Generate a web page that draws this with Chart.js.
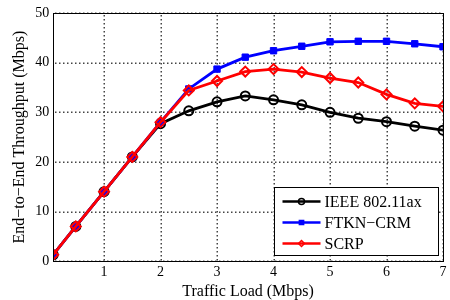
<!DOCTYPE html>
<html>
<head>
<meta charset="utf-8">
<script src="https://cdn.jsdelivr.net/npm/chart.js@4"></script>
<style>
  html, body { margin: 0; padding: 0; background: #fff; }
  #wrap { width: 450px; height: 300px; }
</style>
</head>
<body>
<div id="wrap"><canvas id="tputChart" width="450" height="300"></canvas></div>
<script>
const loads = [0.1, 0.5, 1, 1.5, 2, 2.5, 3, 3.5, 4, 4.5, 5, 5.5, 6, 6.5, 7];
const ieee = [1.3, 7, 14, 21, 27.7, 30.3, 32.1, 33.3, 32.5, 31.5, 30.0, 28.8, 28.1, 27.2, 26.4];
const ftkn = [1.3, 7, 14, 21, 28, 34.7, 38.7, 41.1, 42.4, 43.3, 44.2, 44.3, 44.3, 43.8, 43.2];
const scrp = [1.3, 7, 14, 21, 28, 34.4, 36.3, 38.2, 38.7, 38.1, 36.9, 36.0, 33.6, 31.8, 31.2];
const xTicks = [1, 2, 3, 4, 5, 6, 7];
const yTicks = [0, 10, 20, 30, 40, 50];
const seriesNames = ['IEEE 802.11ax', 'FTKN\u2212CRM', 'SCRP'];

const serif = "'Liberation Serif', 'Times New Roman', serif";

function pts(vals) {
    return loads.map(function (x, i) { return { x: x, y: vals[i] }; });
}

// dotted grid, box round the plot, legend in the lower right corner
const frame = {
    id: 'frame',
    beforeDatasetsDraw: function (chart) {
        const a = chart.chartArea;
        const c = chart.ctx;
        const sx = chart.scales.x, sy = chart.scales.y;
        c.save();
        c.fillStyle = '#444';
        xTicks.forEach(function (v) {
            const px = Math.round(sx.getPixelForValue(v));
            for (let y = Math.round(a.top) + 2; y < a.bottom; y += 4) c.fillRect(px - 0.5, y, 1.5, 1.5);
        });
        yTicks.forEach(function (v) {
            const py = Math.round(sy.getPixelForValue(v));
            for (let x = Math.round(a.left) + 2; x < a.right; x += 4) c.fillRect(x, py - 0.5, 1.5, 1.5);
        });
        c.restore();
    },
    afterDatasetsDraw: function (chart) {
        const a = chart.chartArea;
        const c = chart.ctx;
        c.save();
        c.strokeStyle = '#000';
        c.lineWidth = 1;
        c.strokeRect(Math.round(a.left) + 0.5, Math.round(a.top) + 0.5,
            Math.round(a.right - a.left), Math.round(a.bottom - a.top));

        const bx = Math.round(a.right - 169) + 0.5, by = Math.round(a.bottom - 74) + 0.5, bw = 164, bh = 68;
        c.fillStyle = '#fff';
        c.fillRect(bx, by, bw, bh);
        c.strokeRect(bx, by, bw, bh);
        c.font = '16px ' + serif;
        c.textBaseline = 'middle';
        chart.data.datasets.forEach(function (ds, i) {
            const y = by + 14 + i * 21;
            c.strokeStyle = ds.borderColor;
            c.lineWidth = 2.5;
            c.beginPath();
            c.moveTo(bx + 8, y);
            c.lineTo(bx + 46, y);
            c.stroke();
            c.fillStyle = ds.pointBackgroundColor;
            c.lineWidth = 1.5;
            Chart.helpers.drawPoint(c, {
                pointStyle: ds.pointStyle,
                radius: 3,
                borderWidth: 1.5
            }, bx + 27, y);
            c.fillStyle = '#000';
            c.fillText(ds.label, bx + 50, y + 1);
        });
        c.restore();
    }
};

new Chart(document.getElementById('tputChart').getContext('2d'), {
    type: 'line',
    data: {
        datasets: [
            {
                label: seriesNames[0],
                data: pts(ieee),
                borderColor: '#000',
                backgroundColor: '#000',
                pointBackgroundColor: 'rgba(0,0,0,0)',
                pointBorderColor: '#000',
                pointStyle: 'circle',
                pointRadius: 4.5,
                pointBorderWidth: 2,
                borderWidth: 2.8,
                order: 2
            },
            {
                label: seriesNames[1],
                data: pts(ftkn),
                borderColor: '#0000ff',
                backgroundColor: '#0000ff',
                pointBackgroundColor: '#0000ff',
                pointBorderColor: '#0000ff',
                pointStyle: 'rect',
                pointRadius: 4.5,
                pointBorderWidth: 1,
                borderWidth: 2.8,
                order: 1
            },
            {
                label: seriesNames[2],
                data: pts(scrp),
                borderColor: '#ff0000',
                backgroundColor: '#ff0000',
                pointBackgroundColor: 'rgba(0,0,0,0)',
                pointBorderColor: '#ff0000',
                pointStyle: 'rectRot',
                pointRadius: 5,
                pointBorderWidth: 2,
                borderWidth: 2.8,
                order: 0
            }
        ]
    },
    options: {
        responsive: false,
        animation: false,
        layout: { padding: { top: 13, right: -3, left: 10, bottom: 0 } },
        plugins: {
            legend: { display: false },
            tooltip: { enabled: false }
        },
        scales: {
            x: {
                type: 'linear',
                min: 0.1,
                max: 7,
                afterBuildTicks: function (s) {
                    s.ticks = xTicks.map(function (v) { return { value: v }; });
                },
                grid: { display: false, drawTicks: false },
                border: { display: false },
                ticks: {
                    color: '#000',
                    padding: 3,
                    font: { family: serif, size: 14 }
                },
                title: {
                    display: true,
                    text: 'Traffic Load (Mbps)',
                    color: '#000',
                    padding: { top: 0, bottom: 0 },
                    font: { family: serif, size: 16, lineHeight: 1.0 }
                }
            },
            y: {
                min: 0,
                max: 50,
                afterBuildTicks: function (s) {
                    s.ticks = yTicks.map(function (v) { return { value: v }; });
                },
                grid: { display: false, drawTicks: false },
                border: { display: false },
                ticks: {
                    color: '#000',
                    padding: 4,
                    font: { family: serif, size: 14 }
                },
                title: {
                    display: true,
                    text: 'End\u2212to\u2212End Throughput (Mbps)',
                    color: '#000',
                    padding: { top: 0, bottom: 2 },
                    font: { family: serif, size: 16 }
                }
            }
        }
    },
    plugins: [frame]
});
</script>
</body>
</html>
